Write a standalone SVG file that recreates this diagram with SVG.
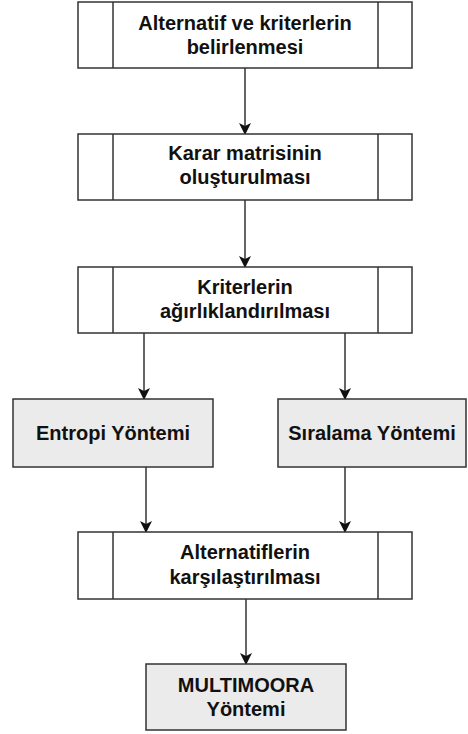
<svg xmlns="http://www.w3.org/2000/svg" width="468" height="734" viewBox="0 0 468 734">
<defs>
<style>
.box{fill:#ffffff;stroke:#333333;stroke-width:1.5}
.gbox{fill:#ebebeb;stroke:#333333;stroke-width:1.5}
.sub{stroke:#333333;stroke-width:1.5}
.t{font-family:"Liberation Sans",Arial,sans-serif;font-weight:bold;font-size:20px;fill:#111111;text-anchor:middle}
.c{stroke:#333333;stroke-width:1.5;fill:none;marker-end:url(#arr)}
</style>
<marker id="arr" markerUnits="userSpaceOnUse" markerWidth="12" markerHeight="12" refX="11" refY="6" orient="auto">
<path d="M0,0 L12,6 L0,12 L3,6 Z" fill="#111111"/>
</marker>
</defs>
<rect width="468" height="734" fill="#ffffff"/>
<g id="connectors">
<line class="c" x1="245" y1="68" x2="245" y2="134"/>
<line class="c" x1="245" y1="200" x2="245" y2="267"/>
<line class="c" x1="144" y1="333" x2="144" y2="399"/>
<line class="c" x1="345" y1="333" x2="345" y2="399"/>
<line class="c" x1="146" y1="467" x2="146" y2="532"/>
<line class="c" x1="345" y1="467" x2="345" y2="532"/>
<line class="c" x1="246" y1="599" x2="246" y2="664"/>
</g>
<g id="node1">
<rect class="box" x="78" y="2" width="334" height="66"/>
<line class="sub" x1="113" y1="2" x2="113" y2="68"/>
<line class="sub" x1="378" y1="2" x2="378" y2="68"/>
<text class="t" x="245" y="30">Alternatif ve kriterlerin</text>
<text class="t" x="245" y="54">belirlenmesi</text>
</g>
<g id="node2">
<rect class="box" x="78" y="134" width="334" height="66"/>
<line class="sub" x1="113" y1="134" x2="113" y2="200"/>
<line class="sub" x1="378" y1="134" x2="378" y2="200"/>
<text class="t" x="245" y="160">Karar matrisinin</text>
<text class="t" x="245" y="184">oluşturulması</text>
</g>
<g id="node3">
<rect class="box" x="78" y="267" width="334" height="66"/>
<line class="sub" x1="113" y1="267" x2="113" y2="333"/>
<line class="sub" x1="378" y1="267" x2="378" y2="333"/>
<text class="t" x="245" y="294">Kriterlerin</text>
<text class="t" x="245" y="318">ağırlıklandırılması</text>
</g>
<g id="node4">
<rect class="gbox" x="13" y="399" width="200" height="68"/>
<text class="t" x="113" y="440">Entropi Yöntemi</text>
</g>
<g id="node5">
<rect class="gbox" x="278" y="399" width="188" height="68"/>
<text class="t" x="372" y="440">Sıralama Yöntemi</text>
</g>
<g id="node6">
<rect class="box" x="78" y="532" width="334" height="67"/>
<line class="sub" x1="113" y1="532" x2="113" y2="599"/>
<line class="sub" x1="378" y1="532" x2="378" y2="599"/>
<text class="t" x="245" y="559">Alternatiflerin</text>
<text class="t" x="245" y="584">karşılaştırılması</text>
</g>
<g id="node7">
<rect class="gbox" x="146" y="664" width="200" height="66"/>
<text class="t" x="246" y="692">MULTIMOORA</text>
<text class="t" x="246" y="716">Yöntemi</text>
</g>
</svg>
